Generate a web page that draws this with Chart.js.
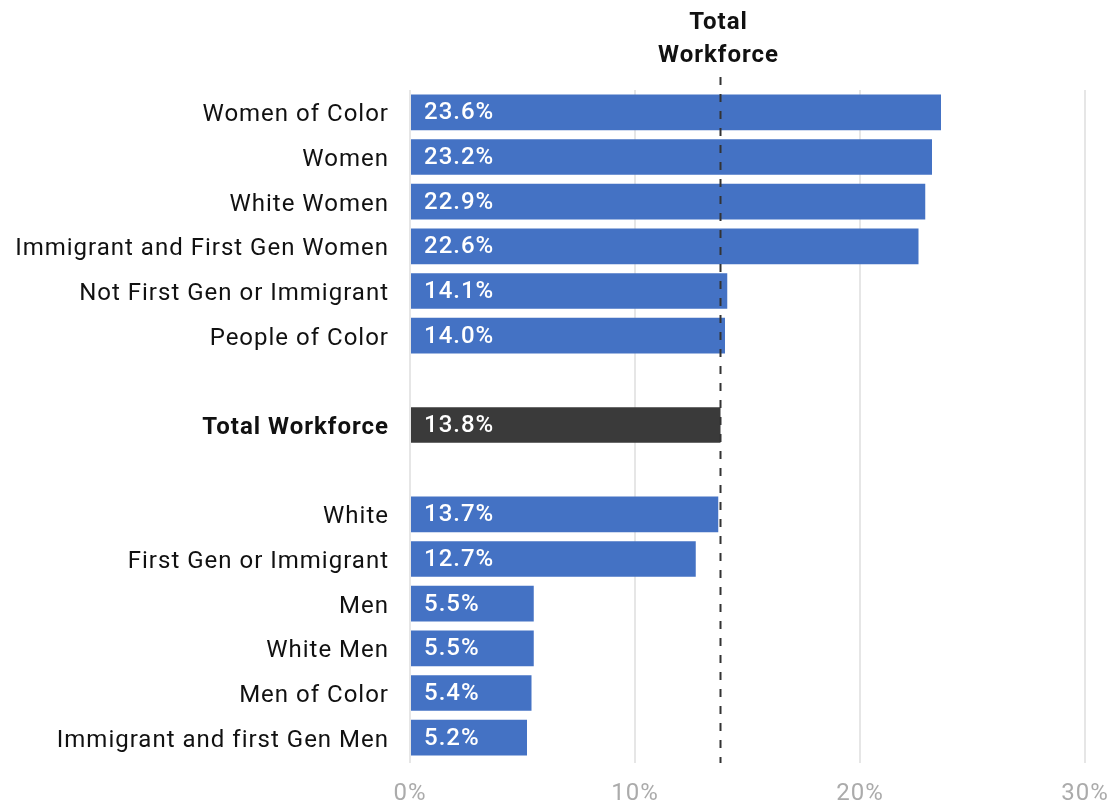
<!DOCTYPE html>
<html>
<head>
    <title>Total Workforce</title>
    <script src="https://cdn.jsdelivr.net/npm/chart.js"></script>
    <style>
        body { margin: 0; background: #fff; }
        #wrap { width: 1118px; height: 804px; }
    </style>
</head>
<body>
    <div id="wrap"><canvas id="barChart"></canvas></div>

    <script>
    // categories, '' = empty spacer row
    const categorias = [
        'Women of Color', 'Women', 'White Women', 'Immigrant and First Gen Women',
        'Not First Gen or Immigrant', 'People of Color', '',
        'Total Workforce', '',
        'White', 'First Gen or Immigrant', 'Men', 'White Men', 'Men of Color',
        'Immigrant and first Gen Men'
    ];
    const valores = [23.6, 23.2, 22.9, 22.6, 14.1, 14.0, null, 13.8, null, 13.7, 12.7, 5.5, 5.5, 5.4, 5.2];
    const totalLabel = 'Total Workforce';
    const totalValor = 13.8;
    const xTicks = [0, 10, 20, 30];

    const FONT = 'Roboto, "Liberation Sans", sans-serif';
    const cores = categorias.map(c => c === totalLabel ? '#3a3a3a' : '#4472c4');

    const plugin = {
        id: 'extras',
        beforeDraw(chart) {
            chart.ctx.letterSpacing = '1px';
        },
        afterDatasetsDraw(chart) {
            const ctx = chart.ctx;
            const meta = chart.getDatasetMeta(0);
            ctx.save();
            ctx.letterSpacing = '1px';
            ctx.fillStyle = '#ffffff';
            ctx.font = '500 24px ' + FONT;
            ctx.textBaseline = 'middle';
            ctx.textAlign = 'left';
            meta.data.forEach((bar, i) => {
                if (valores[i] == null) return;
                ctx.fillText(valores[i].toFixed(1) + '%', bar.base + 13, bar.y + 1);
            });

            // dashed line at total workforce value
            const x = chart.scales.x.getPixelForValue(totalValor);
            const area = chart.chartArea;
            ctx.strokeStyle = '#333333';
            ctx.lineWidth = 2;
            ctx.setLineDash([8, 9]);
            ctx.beginPath();
            ctx.moveTo(x, area.top - 13);
            ctx.lineTo(x, area.bottom + 3);
            ctx.stroke();
            ctx.setLineDash([]);

            ctx.fillStyle = '#111111';
            ctx.font = 'bold 24px ' + FONT;
            ctx.textAlign = 'center';
            ctx.fillText('Total', x - 2, 23);
            ctx.fillText('Workforce', x - 2, 56);
            ctx.restore();
        }
    };

    new Chart(document.getElementById('barChart'), {
        type: 'bar',
        data: {
            labels: categorias,
            datasets: [{
                data: valores,
                backgroundColor: cores,
                barPercentage: 0.8,
                categoryPercentage: 1.0
            }]
        },
        options: {
            indexAxis: 'y',
            responsive: true,
            maintainAspectRatio: false,
            animation: false,
            layout: { padding: { top: 90, right: 0, left: 0, bottom: 0 } },
            plugins: { legend: { display: false }, tooltip: { enabled: false } },
            scales: {
                x: {
                    min: 0,
                    max: 30,
                    afterBuildTicks: (scale) => { scale.ticks = xTicks.map(v => ({ value: v })); },
                    afterFit: (scale) => {
                        scale.height = 44;
                        scale.paddingRight = 33;
                        scale.paddingLeft = 0;
                    },
                    grid: { color: '#e6e6e6', lineWidth: 2, tickLength: 3, drawTicks: true },
                    border: { display: false },
                    ticks: {
                        color: '#ababab',
                        font: { family: FONT, size: 24 },
                        padding: 17,
                        callback: v => v + '%'
                    }
                },
                y: {
                    afterFit: (scale) => { scale.width = 410; },
                    grid: { display: false, drawTicks: false },
                    border: { display: false },
                    ticks: {
                        color: '#111111',
                        padding: 21,
                        labelOffset: 3,
                        font: (c) => ({
                            family: FONT,
                            size: 24,
                            weight: categorias[c.index] === totalLabel ? 'bold' : 'normal'
                        })
                    }
                }
            }
        },
        plugins: [plugin]
    });
    </script>
</body>
</html>
